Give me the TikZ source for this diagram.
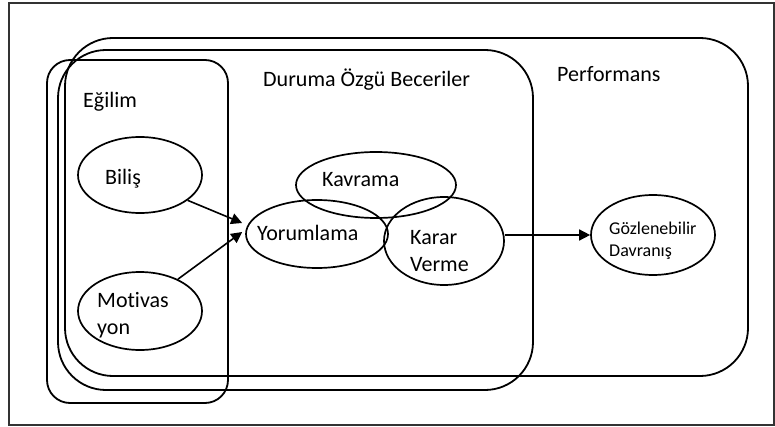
\documentclass[tikz,border=0pt]{standalone}
\usepackage{fontspec}
\setmainfont{Carlito}[Ligatures=NoCommon]
\usetikzlibrary{arrows.meta, shapes.geometric}

\begin{document}
\begin{tikzpicture}[
    x=1pt, y=-1pt,
    frame/.style={rectangle, draw=black!80, line width=1.2pt, inner sep=0pt},
    box/.style={rectangle, draw, rounded corners=48pt, line width=1.8pt, inner sep=0pt},
    oval/.style={ellipse, draw, line width=1.7pt, inner sep=0pt},
    lbl/.style={anchor=base west, inner sep=0pt, align=left, font=\fontsize{22}{27}\selectfont},
    arrow/.style={-{Triangle[length=11pt, width=11pt]}, line width=1.6pt}
  ]
    \useasboundingbox (0,0) rectangle (775,427);

    % Outer frame
    \node[frame, minimum width=765pt, minimum height=422pt] (frame) at (391.5,214) {};

    % Three rounded boxes
    \node[box, minimum width=683pt, minimum height=338pt] (perf) at (406.5,207) {};
    \node[box, minimum width=475pt, minimum height=340pt] (durum) at (295.5,220) {};
    \node[box, rounded corners=23pt, minimum width=181pt, minimum height=343pt] (egilim) at (137.5,231.5) {};

    % Box titles
    \node[lbl] (egilimtxt) at (83,108) {Eğilim};
    \node[lbl] (durumtxt) at (263,87) {Duruma Özgü Beceriler};
    \node[lbl] (perftxt) at (557,82) {Performans};

    % Ovals
    \node[oval, minimum width=124pt, minimum height=76pt] (bilis) at (140,175) {};
    \node[oval, minimum width=124pt, minimum height=78pt] (motiv) at (140,311) {};
    \node[oval, minimum width=160pt, minimum height=66pt] (kavrama) at (376,185) {};
    \node[oval, minimum width=142pt, minimum height=68pt] (yorum) at (317,234) {};
    \node[oval, minimum width=120pt, minimum height=88pt] (karar) at (444,241) {};
    \node[oval, minimum width=124pt, minimum height=80pt] (goz) at (653,235) {};

    % Oval texts (base = last line)
    \node[lbl] (bilistxt) at (105,185) {Biliş};
    \node[lbl] (motivtxt) at (97,334) {Motivas\\yon};
    \node[lbl] (kavramatxt) at (322,187) {Kavrama};
    \node[lbl] (yorumtxt) at (257,241) {Yorumlama};
    \node[lbl] (karartxt) at (410,271) {Karar\\Verme};
    \node[lbl, font=\fontsize{18}{22}\selectfont] (goztxt) at (609,257) {Gözlenebilir\\Davranış};

    % Arrows
    \draw[arrow] (bilis.-28) -- ([shift={(-3,-11)}]yorum.west);
    \draw[arrow] (motiv.40) -- ([shift={(-3,-2)}]yorum.west);
    \draw[arrow] (karar.east |- goz.west) -- (goz.west);
\end{tikzpicture}
\end{document}
